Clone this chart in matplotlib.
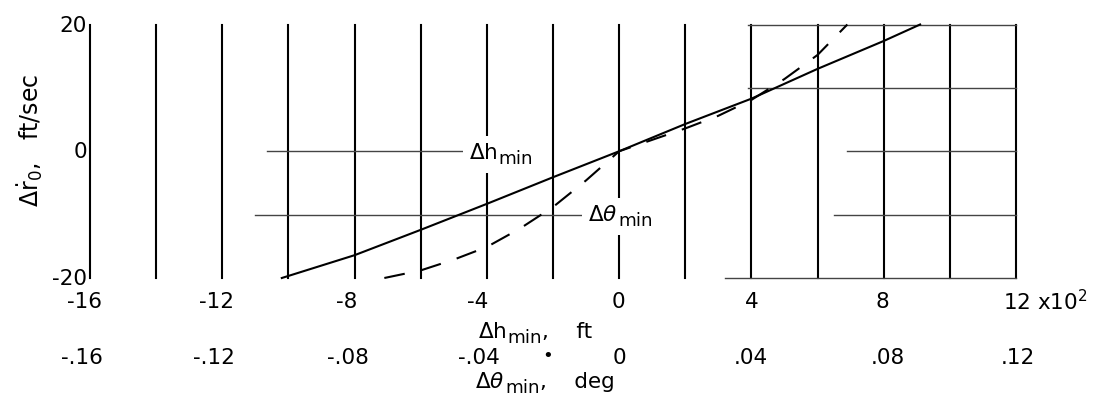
import matplotlib
matplotlib.use("Agg")
import matplotlib.pyplot as plt
import matplotlib.transforms as mtransforms
from matplotlib.patches import Rectangle

plt.rcParams['font.family'] = ['DejaVu Sans']
plt.rcParams['mathtext.fontset'] = 'dejavusans'

# Minimum-altitude error curve: delta h_min (x 10^2 ft) vs delta r0-dot (ft/sec)
h_x = [-10.2, -8, -6, -4, -2, 0, 2, 4, 6, 8, 9.1]
h_y = [-20, -16.4, -12.4, -8.3, -4.1, 0, 4.3, 8.3, 13.0, 17.4, 20]

# Minimum-angle error curve, plotted on the same abscissa (0.01 deg per 10^2 ft)
theta_x = [-7.1, -6, -5, -4, -3, -2, -1, 0, 1, 2, 3, 4, 5, 6, 6.9]
theta_y = [-20, -18.8, -17.1, -15.1, -12.2, -8.8, -4.6, 0, 1.8, 3.6, 5.6, 8.1, 11.4, 15.2, 20]

# Axis tick values and labels
h_ticks = [-16, -12, -8, -4, 0, 4, 8, 12]
h_labels = ['-16', '-12', '-8', '-4', '0', '4', '8', '12 x10$^2$']
deg_labels = ['-.16', '-.12', '-.08', '-.04', '0', '.04', '.08', '.12']
y_ticks = [20, 0, -20]
y_labels = ['20', '0', '-20']

# Grid: vertical rules every 200 ft, partial horizontal rules (y, x_start, x_end)
grid_x = list(range(-16, 13, 2))
grid_h = [(20, 3.9, 12), (10, 3.9, 12), (0, -10.65, -4.6), (0, 6.9, 12),
          (-10, -11.0, -1.0), (-10, 6.5, 12), (-20, 3.2, 12)]

W, H = 1098, 406
fig = plt.figure(figsize=(W / 100, H / 100), dpi=100)
x0, x1, ytop, ybot = 90, 1016, 25.5, 279
ax = fig.add_axes([x0 / W, (H - ybot) / H, (x1 - x0) / W, (ybot - ytop) / H])
ax.set_xlim(-16, 12)
ax.set_ylim(-20, 20)
ax.axis('off')

for gx in grid_x:
    ax.plot([gx, gx], [-20, 20], color='black', lw=1.5, clip_on=False, zorder=2)
for gy, xs, xe in grid_h:
    ax.plot([xs, xe], [gy, gy], color='#444444', lw=1.0, clip_on=False, zorder=2)

ax.plot(h_x, h_y, color='black', lw=1.5, clip_on=False, zorder=4)
ax.plot(theta_x, theta_y, color='black', lw=1.5, dashes=(10, 8),
        clip_on=False, zorder=4)

fs = 15.5
sub_fs = 13.2


def sub_label(xy, coords, main, sub, tail=''):
    """Main symbol, near full-size lowered subscript, optional trailing text."""
    t1 = ax.annotate(main, xy=xy, xycoords=coords, ha='left', va='baseline',
                     fontsize=fs, zorder=3, annotation_clip=False)
    t2 = ax.annotate(sub, xy=(1, 0), xycoords=t1, xytext=(1, -5),
                     textcoords='offset pixels', ha='left', va='bottom',
                     fontsize=sub_fs, zorder=3, annotation_clip=False)
    parts = [t1, t2]
    if tail:
        t3 = ax.annotate(tail, xy=(1, 0), xycoords=(t2, t1), ha='left',
                         va='bottom', fontsize=fs, zorder=3,
                         annotation_clip=False)
        parts.append(t3)
    return parts


def below_axes(dy_px):
    """x in data units, y a fixed pixel distance below the bottom rule."""
    shift = mtransforms.ScaledTranslation(0, -dy_px / 100, fig.dpi_scale_trans)
    return mtransforms.blended_transform_factory(ax.transData, ax.transAxes + shift)


curve_labels = [
    sub_label((-4.55, -1.1), 'data', r'$\Delta\mathrm{h}$', 'min'),
    sub_label((-0.95, -10.9), 'data', r'$\Delta\theta$', 'min'),
]

# tick labels under the plot (pixel offsets keep digits centred on the rules)
bx = mtransforms.blended_transform_factory(ax.transData, ax.transAxes)
row1_dx = [-5, -6, -8, -9, -1, 0, -1, -13]
row2_dx = [-8, -8, -7, -8, 0, -1, 4, 2]
for v, lab, dx in zip(h_ticks, h_labels, row1_dx):
    ha = 'left' if v == 12 else 'center'
    ax.annotate(lab, xy=(v, 0), xycoords=bx, xytext=(dx, -23),
                textcoords='offset pixels', ha=ha, va='center', fontsize=fs)
for v, lab, dx in zip(h_ticks, deg_labels, row2_dx):
    ax.annotate(lab, xy=(v, 0), xycoords=bx, xytext=(dx, -79),
                textcoords='offset pixels', ha='center', va='center', fontsize=fs)
ax.annotate('•', xy=(-2, 0), xycoords=bx, xytext=(-5, -77),
            textcoords='offset pixels', ha='center', va='center', fontsize=13)

# axis titles
sub_label((-4.27, 0), below_axes(59), r'$\Delta\mathrm{h}$', 'min', ',    ft')
sub_label((-4.36, 0), below_axes(109), r'$\Delta\theta$', 'min', ',    deg')

by = mtransforms.blended_transform_factory(ax.transAxes, ax.transData)
for v, lab in zip(y_ticks, y_labels):
    ax.annotate(lab, xy=(0, v), xycoords=by, xytext=(-3, 0),
                textcoords='offset pixels', ha='right', va='center', fontsize=fs)

fig.text(30 / W, 1 - 140 / H, r'$\Delta\dot{\mathrm{r}}_{0}$,   ft/sec', rotation=90,
         ha='center', va='center', fontsize=17)

# white backing behind the in-plot curve labels so the rules break around them
fig.canvas.draw()
renderer = fig.canvas.get_renderer()
for parts in curve_labels:
    bb = mtransforms.Bbox.union([p.get_window_extent(renderer) for p in parts])
    pad = 6
    ax.add_patch(Rectangle((bb.x0 - pad, bb.y0 - pad), bb.width + 2 * pad,
                           bb.height + 2 * pad, transform=None,
                           facecolor='white', edgecolor='none', zorder=2.5))

fig.savefig('out.png', dpi=100)
